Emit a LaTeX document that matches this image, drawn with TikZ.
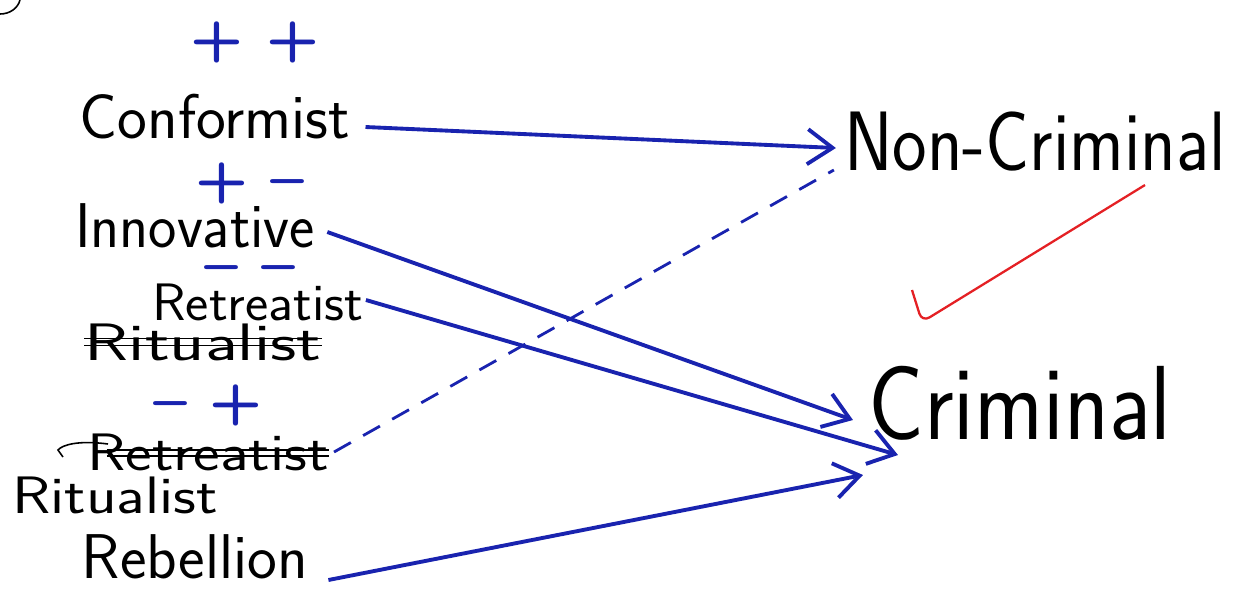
\documentclass[tikz,border=0pt]{standalone}
\usepackage{graphicx}
\usetikzlibrary{arrows.meta,positioning}
\definecolor{penblue}{RGB}{25,35,175}
\definecolor{penred}{RGB}{228,32,36}
\newcommand{\handw}[2]{\scalebox{#1}[1]{#2}}
\begin{document}
\begin{tikzpicture}[x=0.02cm,y=-0.02cm,
    lbl/.style={font=\sffamily\fontsize{36}{40}\selectfont,inner sep=0pt},
    sml/.style={font=\sffamily\fontsize{30}{36}\selectfont,inner sep=0pt},
    bigl/.style={font=\sffamily\fontsize{48}{54}\selectfont,inner sep=0pt},
    hugel/.style={font=\sffamily\fontsize{60}{66}\selectfont,inner sep=0pt},
    sgn/.style={text=penblue,font=\sffamily\bfseries\fontsize{32}{36}\selectfont,inner sep=0pt},
    ink/.style={penblue,line width=2.2pt,-{Straight Barb[length=5mm,width=7mm]}},
    dashink/.style={penblue,line width=1.6pt,dash pattern=on 11pt off 8pt},
    strike/.style={line width=0.8pt}]
\useasboundingbox (0,0) rectangle (1241,593);
% left column: types and signs
\node[sgn] (pp) at (255,42) {\handw{1.1}{+ +}};
\node[lbl] (conf) at (215,117) {Conformist};
\node[sgn] (pm) at (250,183) {\handw{1.1}{+ --}};
\node[lbl] (innov) at (195,226) {\handw{0.95}{Innovative}};
\node[sgn,anchor=base] (mm) at (250,283) {\handw{1.1}{-- --}};
\node[sml] (retr) at (258,302) {\handw{1.05}{Retreatist}};
\node[sml] (ritx) at (203,342) {\handw{1.38}{Ritualist}};
\node[sgn] (mp) at (208,405) {\handw{1.1}{-- +}};
\node[sml] (retx) at (208,452) {\handw{1.2}{Retreatist}};
\node[sml] (ritu) at (115,495) {\handw{1.2}{Ritualist}};
\node[lbl] (rebel) at (195,557) {Rebellion};
% right column: outcomes
\node[bigl] (noncrim) at (1035,142) {\handw{0.87}{Non-Criminal}};
\node[hugel] (crim) at (1020,403) {\handw{0.88}{Criminal}};
% crossed out words
\draw[strike] ([yshift=2pt]ritx.west) -- ([yshift=2pt]ritx.east);
\draw[strike] ([yshift=-2pt]ritx.west) -- ([yshift=-2pt]ritx.east);
\draw[strike] ([shift={(20,-2)}]retx.west) -- ([shift={(0,-2)}]retx.east);
\draw[strike] ([shift={(20,4)}]retx.west) -- ([shift={(0,4)}]retx.east);
\draw[line width=0.9pt] (108,444) .. controls (78,440) and (62,445) .. (58,450) -- (63,457);
\draw[line width=0.9pt] (0,14) .. controls (10,14) and (18,8) .. (20,0);
% connectors
\draw[ink] ([shift={(15,10)}]conf.east) -- ([shift={(-8,6)}]noncrim.west);
\draw[ink] ([shift={(12,6)}]innov.east) -- ([shift={(-15,17)}]crim.west);
\draw[ink] ([shift={(2,-2)}]retr.east) -- ([shift={(30,52)}]crim.west);
\draw[ink] ([shift={(20,23)}]rebel.east) -- ([shift={(-5,72)}]crim.west);
\draw[dashink] ([shift={(5,0)}]retx.east) -- ([shift={(-10,28)}]noncrim.west);
% tick
\draw[penred,line width=1.3pt,rounded corners=5pt] (912,290) -- (922,322) -- (1145,185);
\end{tikzpicture}
\end{document}
